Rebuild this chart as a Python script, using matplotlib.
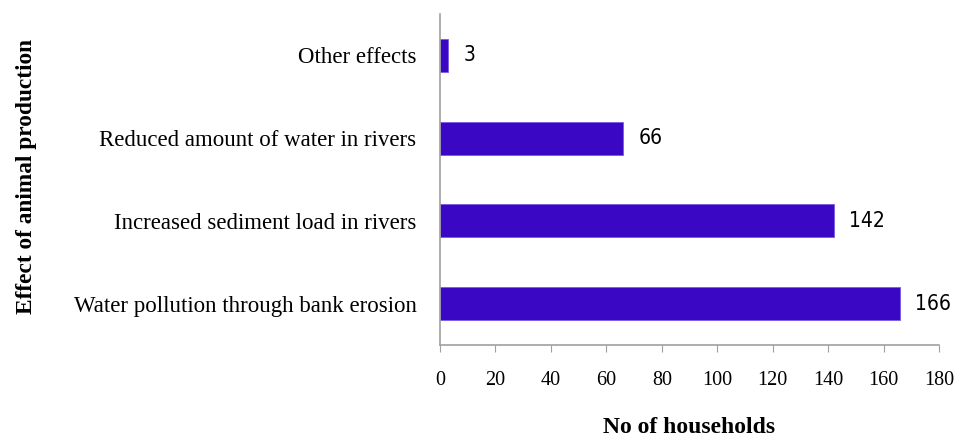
import matplotlib
matplotlib.use('Agg')
import matplotlib.pyplot as plt

effects = ['Water pollution through bank erosion', 'Increased sediment load in rivers',
           'Reduced amount of water in rivers', 'Other effects']
households = [166, 142, 66, 3]
xticks = [0, 20, 40, 60, 80, 100, 120, 140, 160, 180]

plt.rcParams['font.family'] = ['Liberation Serif', 'DejaVu Serif']

fig = plt.figure(figsize=(9.63, 4.38), dpi=100)
ax = fig.add_axes([440/963, 93/438, 499/963, 331/438])

ypos = range(len(effects))
ax.barh(ypos, households, height=0.4, color='#3a08c4', edgecolor='#7a5ae0', linewidth=0.6)
for y, v in zip(ypos, households):
    ax.annotate(str(v), (v, y), xytext=(11, 0), textcoords='offset points',
                va='center', ha='left', fontsize=15, fontstretch='condensed',
                family=['DejaVu Sans', 'Liberation Sans'])

ax.set_xlim(0, 180)
ax.set_ylim(-0.5, 3.5)
ax.set_xticks(xticks)
ax.set_yticks(list(ypos))
ax.set_yticklabels(effects, fontsize=16.5)
ax.tick_params(axis='x', labelsize=14.5, length=5, color='#a0a0a0', pad=14)
ax.tick_params(axis='y', length=0, pad=17)
for s in ['top', 'right']:
    ax.spines[s].set_visible(False)
for s in ['left', 'bottom']:
    ax.spines[s].set_color('#a0a0a0')
    ax.spines[s].set_linewidth(1.2)

ax.set_xlabel('No of households', fontsize=17, fontweight='bold', labelpad=19)
fig.text(0.027, 0.596, 'Effect of animal production', rotation=90, fontsize=16.8,
         fontweight='bold', ha='center', va='center')

fig.savefig('out.png', dpi=100)
